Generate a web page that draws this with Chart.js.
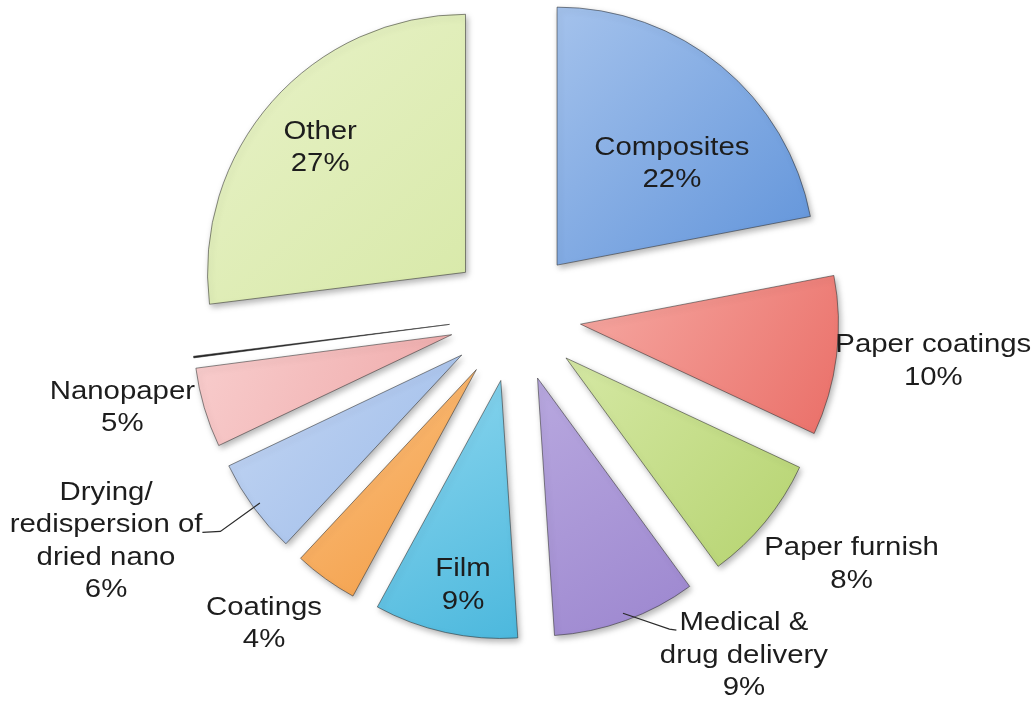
<!DOCTYPE html>
<html>
<head>
<meta charset="utf-8">
<title>Nanocellulose applications</title>
<script src="https://cdn.jsdelivr.net/npm/chart.js@4.4.0/dist/chart.umd.min.js"></script>
<style>
  html, body { margin: 0; padding: 0; background: #fff; }
</style>
</head>
<body>
<canvas id="pie" width="1036" height="701"></canvas>
<script>
// slices, clockwise from 12 o'clock
var categories = ['Composites', 'Paper coatings', 'Paper furnish', 'Medical & drug delivery', 'Film',
                  'Coatings', 'Drying/redispersion of dried nano', 'Nanopaper', '', 'Other'];
var labelLines = [['Composites'], ['Paper coatings'], ['Paper furnish'], ['Medical &', 'drug delivery'], ['Film'],
                  ['Coatings'], ['Drying/', 'redispersion of', 'dried nano'], ['Nanopaper'], [], ['Other']];
var shares = [22, 10, 8, 9, 9, 4, 6, 5, 0.1, 27];

var sliceBase  = ['#6194da', '#ea6f68', '#b5d36f', '#9c86cf', '#4cb8dd', '#f39c44', '#9dbbe9', '#efa9a9', '#262626', '#d8e9a9'];
var sliceLight = ['#a4c2ec', '#f6a9a3', '#d5e8a4', '#b8a8df', '#8ed7ef', '#fbc282', '#c3d6f3', '#f8cdcd', '#262626', '#e8f2c8'];

var RADIUS = 258;
var EXPLODE = 66;
var FONT_PX = 26, LINE_H = 32.5, TEXT_STRETCH = 1.13;

// where each label sits: distance from centre (x radius) and a nudge off the mid angle (deg)
var labelPlace = [
  { d: 0.853, a: 5.9 },
  { d: 1.63, a: -1.2 },
  { d: 1.616, a: -3.3 },
  { d: 1.58, a: -14.2, leader: 'left', line: 0 },
  { d: 1.055, a: -1.4 },
  { d: 1.533, a: 3.6 },
  { d: 1.806, a: 7.6, leader: 'right', line: 1 },
  { d: 1.561, a: 3.6 },
  null,
  { d: 1.003, a: -0.3 }
];

function sliceFill(c) {
  var chart = c.chart, i = c.dataIndex, area = chart.chartArea;
  if (!area || c.type !== 'data') return sliceBase[i];
  var ctrl = chart.getDatasetMeta(0).controller;
  var a0 = -Math.PI / 2;
  for (var k = 0; k < i; k++) a0 += ctrl.calculateCircumference(shares[k]);
  var a1 = a0 + ctrl.calculateCircumference(shares[i]);
  var cx = (area.left + area.right) / 2, cy = (area.top + area.bottom) / 2;
  var r = ctrl.outerRadius || RADIUS;
  var xs = [cx], ys = [cy];
  for (var s = 0; s <= 20; s++) {
    var a = a0 + (a1 - a0) * s / 20;
    xs.push(cx + r * Math.cos(a));
    ys.push(cy + r * Math.sin(a));
  }
  var g = chart.ctx.createLinearGradient(Math.min.apply(null, xs), Math.min.apply(null, ys),
                                         Math.max.apply(null, xs), Math.max.apply(null, ys));
  g.addColorStop(0, sliceLight[i]);
  g.addColorStop(1, sliceBase[i]);
  return g;
}

// pull every slice outwards and give it a soft drop shadow
var explodedPie = {
  id: 'explodedPie',
  beforeDatasetDraw: function (chart, args) {
    var ctx = chart.ctx;
    args.meta.data.forEach(function (arc, i) {
      var mid = (arc.startAngle + arc.endAngle) / 2;
      ctx.save();
      ctx.translate(Math.cos(mid) * EXPLODE, Math.sin(mid) * EXPLODE);
      if (shares[i] >= 1) {
        ctx.shadowColor = 'rgba(0,0,0,0.3)';
        ctx.shadowBlur = 6;
        ctx.shadowOffsetX = 2;
        ctx.shadowOffsetY = 3;
      }
      arc.draw(ctx);
      ctx.restore();
    });
    return false;
  }
};

var sliceLabels = {
  id: 'sliceLabels',
  afterDatasetsDraw: function (chart) {
    var ctx = chart.ctx, meta = chart.getDatasetMeta(0);
    ctx.save();
    ctx.font = FONT_PX + 'px "Liberation Sans", Arial, sans-serif';
    ctx.fillStyle = '#1d1d1d';
    ctx.textAlign = 'center';
    ctx.textBaseline = 'alphabetic';
    meta.data.forEach(function (arc, i) {
      var p = labelPlace[i];
      if (!p) return;
      var mid = (arc.startAngle + arc.endAngle) / 2;
      var ang = mid + p.a * Math.PI / 180;
      var cx = arc.x + Math.cos(ang) * p.d * arc.outerRadius;
      var cy = arc.y + Math.sin(ang) * p.d * arc.outerRadius;
      var lines = labelLines[i].concat([shares[i] + '%']);
      var base = lines.map(function (t, k) {
        return cy + (k - (lines.length - 1) / 2) * LINE_H + FONT_PX * 0.36;
      });
      lines.forEach(function (t, k) {
        ctx.save();
        ctx.translate(cx, base[k]);
        ctx.scale(TEXT_STRETCH, 1);
        ctx.fillText(t, 0, 0);
        ctx.restore();
      });
      if (p.leader) {
        var w = ctx.measureText(lines[p.line]).width * TEXT_STRETCH;
        var ex = p.leader === 'left' ? cx - w / 2 - 3 : cx + w / 2;
        var kx = p.leader === 'left' ? ex - 7 : ex + 18;
        var ey = base[p.line];
        var rr = EXPLODE + arc.outerRadius * 0.97;
        ctx.beginPath();
        ctx.moveTo(arc.x + Math.cos(mid) * rr, arc.y + Math.sin(mid) * rr);
        ctx.lineTo(kx, ey - 1);
        ctx.lineTo(ex, ey);
        ctx.strokeStyle = '#2b2b2b';
        ctx.lineWidth = 1.2;
        ctx.stroke();
      }
    });
    ctx.restore();
  }
};

new Chart(document.getElementById('pie'), {
  type: 'pie',
  data: {
    labels: categories,
    datasets: [{
      data: shares,
      backgroundColor: sliceFill,
      borderColor: 'rgba(45,45,45,0.55)',
      borderWidth: 1
    }]
  },
  options: {
    responsive: false,
    animation: false,
    events: [],
    radius: RADIUS,
    layout: { padding: { left: 0, right: 6, top: 0, bottom: 69 } },
    plugins: {
      legend: { display: false },
      tooltip: { enabled: false }
    }
  },
  plugins: [explodedPie, sliceLabels]
});
</script>
</body>
</html>
